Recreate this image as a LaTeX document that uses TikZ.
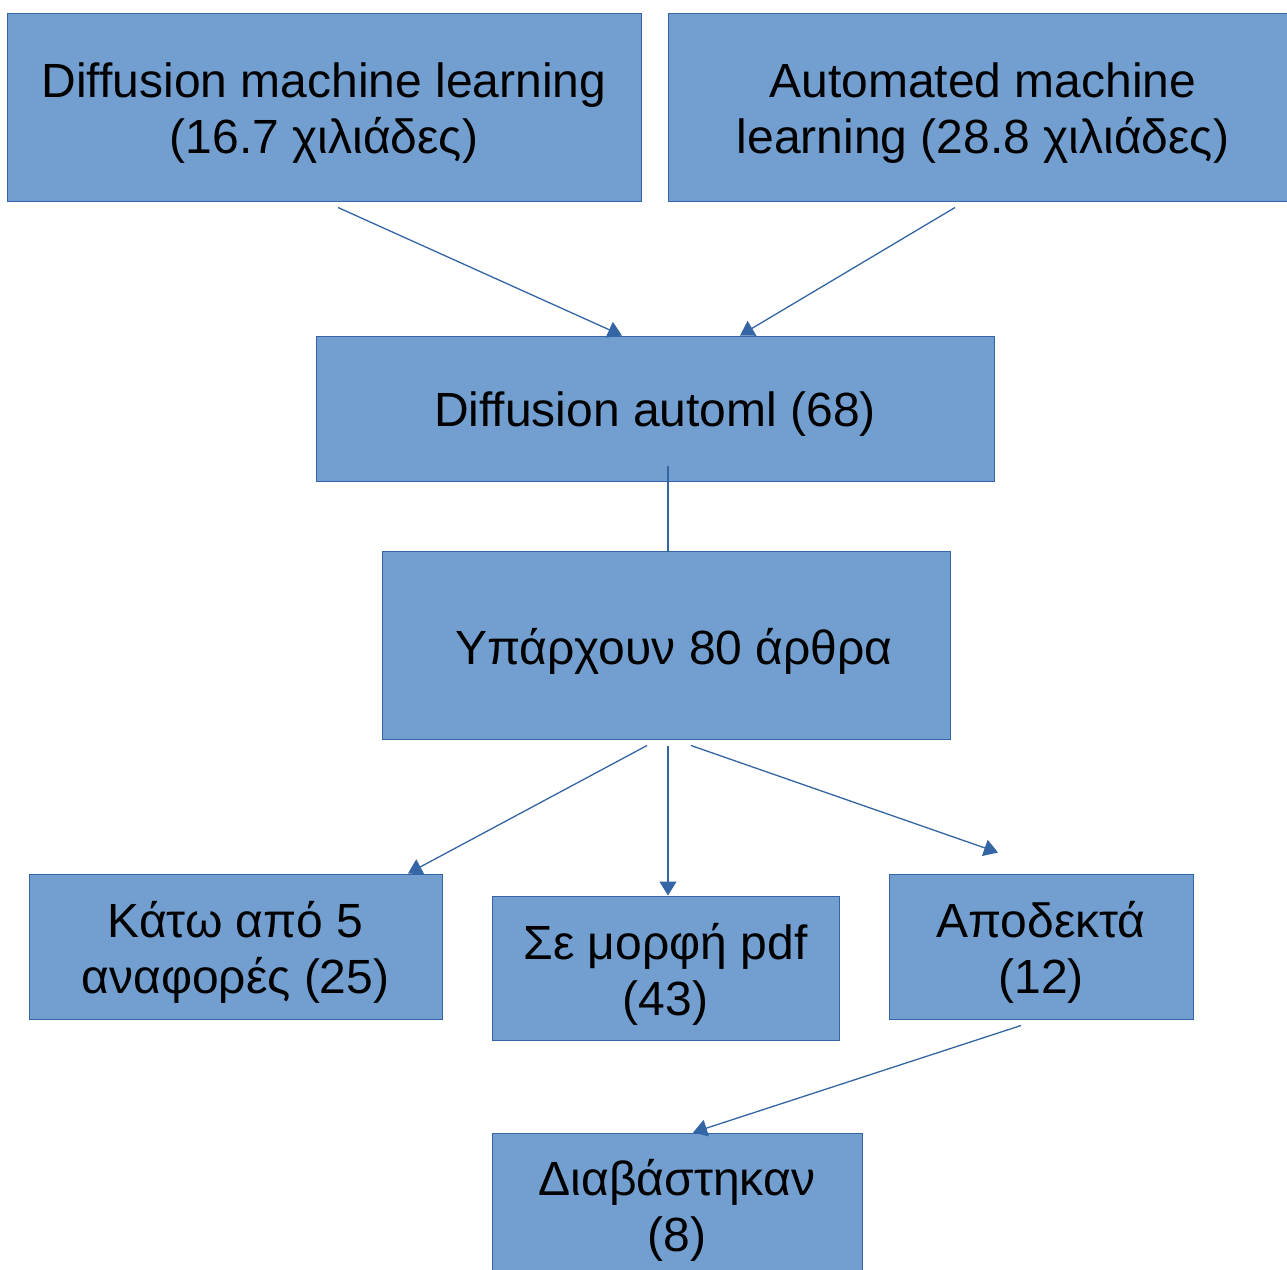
\documentclass[tikz,border=0pt]{standalone}
\usepackage{fontspec}
\setmainfont{Liberation Sans}
\usetikzlibrary{arrows.meta}
\definecolor{boxfill}{HTML}{729FCF}
\definecolor{boxline}{HTML}{3465A4}
\newcommand{\dn}[1]{\raisebox{-6pt}[\height][\depth]{#1}}
\tikzset{
  box/.style={draw=boxline, line width=1pt, fill=boxfill, rectangle, inner sep=0pt,
    align=center, font=\fontsize{48}{56}\selectfont, text=black},
  arr/.style={draw=boxline, line width=1.3pt, -{Triangle[length=14pt,width=17pt]}},
  plain/.style={draw=boxline, line width=1.3pt}
}
\begin{document}
\begin{tikzpicture}[x=1pt,y=-1pt]
\useasboundingbox (0,0) rectangle (1287,1269);
\node[box, minimum width=634pt, minimum height=188pt] (b1) at (324,107) {\dn{Diffusion machine learning}\\\dn{(16.7 χιλιάδες)}};
\node[box, minimum width=619pt, minimum height=188pt] (b2) at (977.5,107) {\dn{\hspace*{11pt}Automated machine}\\\dn{\hspace*{11pt}learning (28.8 χιλιάδες)}};
\node[box, minimum width=678pt, minimum height=145pt] (b3) at (655,408.5) {\dn{Diffusion automl (68)}};
\node[box, minimum width=568pt, minimum height=188pt] (b4) at (666,645) {\dn{\hspace*{16pt}Υπάρχουν 80 άρθρα}};
\node[box, minimum width=413pt, minimum height=145pt] (b5) at (235.5,946.5) {\dn{Κάτω από 5}\\\dn{αναφορές (25)}};
\node[box, minimum width=347pt, minimum height=144pt] (b6) at (665.5,968) {\dn{Σε μορφή pdf}\\\dn{(43)}};
\node[box, minimum width=304pt, minimum height=145pt] (b7) at (1041,946.5) {\dn{Αποδεκτά}\\\dn{(12)}};
\node[box, minimum width=370pt, minimum height=142pt] (b8) at (677,1204) {\dn{Διαβάστηκαν}\\\dn{(8)}};

\draw[arr] ([xshift=14pt,yshift=-6pt]b1.south) -- ([xshift=-33pt]b3.north);
\draw[arr] ([xshift=-22.5pt,yshift=-6pt]b2.south) -- ([xshift=85pt]b3.north);
\draw[plain] ([xshift=13pt,yshift=16pt]b3.south) -- ([xshift=2pt]b4.north);
\draw[arr] ([xshift=-19pt,yshift=-6pt]b4.south) -- ([xshift=172.5pt]b5.north);
\draw[arr] ([xshift=2pt,yshift=-6pt]b4.south) -- ([xshift=2.5pt]b6.north);
\draw[arr] ([xshift=25pt,yshift=-6pt]b4.south) -- ([xshift=-43pt,yshift=21pt]b7.north);
\draw[arr] ([xshift=-20pt,yshift=-6pt]b7.south) -- ([xshift=16pt]b8.north);
\end{tikzpicture}
\end{document}
